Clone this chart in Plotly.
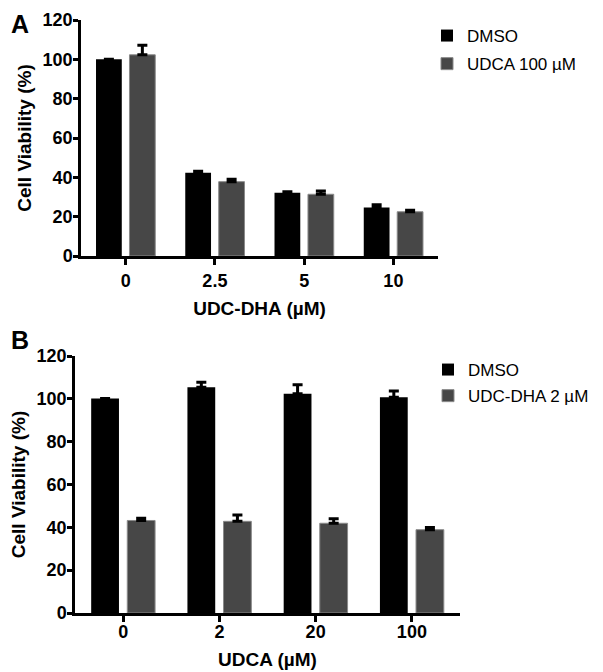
import plotly.graph_objects as go

# Panel A data
a_categories = ["0", "2.5", "5", "10"]
a_dmso = [100.0, 42.3, 32.2, 24.6]
a_dmso_err = [None, 0.8, 0.5, 1.4]
a_udca = [102.3, 37.8, 31.4, 22.5]
a_udca_err = [4.8, 1.2, 1.6, 0.8]

# Panel B data
b_categories = ["0", "2", "20", "100"]
b_dmso = [100.2, 105.4, 102.4, 100.7]
b_dmso_err = [None, 2.3, 4.2, 3.0]
b_udcdha = [43.2, 42.8, 41.9, 38.9]
b_udcdha_err = [1.0, 3.0, 2.1, 1.0]

y_ticks = [0, 20, 40, 60, 80, 100, 120]

BLACK = "#000000"
GRAY = "#474747"
FONT = "Liberation Sans, Arial, sans-serif"

W, H = 603, 672
OFF = 8  # page body margin

def px_x(v):
    return (v - OFF) / W

def px_y(v):
    return 1 - (v - OFF) / H

def err(arr):
    return dict(type="data", array=arr, arrayminus=[0] * len(arr), symmetric=False,
                color="#000000", thickness=3, width=5, visible=True)

fig = go.Figure()
fig.add_trace(go.Bar(x=a_categories, y=a_dmso, name="DMSO", marker=dict(color=BLACK, line=dict(width=0)),
                     error_y=err(a_dmso_err), xaxis="x", yaxis="y", legend="legend", legendgroup="a1"))
fig.add_trace(go.Bar(x=a_categories, y=a_udca, name="UDCA 100 µM",
                     marker=dict(color=GRAY, line=dict(color="#8a8a8a", width=1)),
                     error_y=err(a_udca_err), xaxis="x", yaxis="y", legend="legend", legendgroup="a2"))
fig.add_trace(go.Bar(x=b_categories, y=b_dmso, name="DMSO", marker=dict(color=BLACK, line=dict(width=0)),
                     error_y=err(b_dmso_err), xaxis="x2", yaxis="y2", legend="legend2", legendgroup="b1"))
fig.add_trace(go.Bar(x=b_categories, y=b_udcdha, name="UDC-DHA 2 µM",
                     marker=dict(color=GRAY, line=dict(color="#8a8a8a", width=1)),
                     error_y=err(b_udcdha_err), xaxis="x2", yaxis="y2", legend="legend2", legendgroup="b2"))

def xaxis(domain, anchor, title, lab_off):
    return dict(domain=domain, anchor=anchor, type="category", range=[-0.5, 3.5],
                automargin=False,
                showline=True, linecolor="black", linewidth=2.5, ticks="outside", ticklen=6,
                tickwidth=2.5, tickcolor="black", showgrid=False, zeroline=False,
                tickfont=dict(family=FONT, size=18, color="black", weight="bold"),
                ticklabelstandoff=lab_off,
                title=dict(text=title, font=dict(family=FONT, size=19, color="black", weight="bold"),
                           standoff=12))

def yaxis(domain, anchor):
    return dict(domain=domain, anchor=anchor, range=[0, 120], tickvals=y_ticks,
                automargin=False,
                showline=True, linecolor="black", linewidth=2.5, ticks="outside", ticklen=5,
                tickwidth=2.5, tickcolor="black", showgrid=False, zeroline=False,
                tickfont=dict(family=FONT, size=18, color="black", weight="bold"),
                ticklabelstandoff=-3,
                title=dict(text="Cell Viability (%)", font=dict(family=FONT, size=19, color="black", weight="bold"),
                           standoff=6))

fig.update_layout(
    width=W, height=H,
    margin=dict(l=0, r=0, t=0, b=0, autoexpand=False),
    paper_bgcolor="white", plot_bgcolor="white",
    barmode="group", bargap=0.25, bargroupgap=0.23,
    xaxis=xaxis([px_x(81), px_x(438)], "y", "UDC-DHA (µM)", 1),
    yaxis=yaxis([px_y(256), px_y(20)], "x"),
    xaxis2=xaxis([px_x(75), px_x(460)], "y2", "UDCA (µM)", -5),
    yaxis2=yaxis([px_y(613), px_y(356)], "x2"),
    legend=dict(x=px_x(427), y=px_y(18), xanchor="left", yanchor="top",
                font=dict(family=FONT, size=17, color="black"), bgcolor="rgba(0,0,0,0)",
                traceorder="grouped", itemwidth=30, tracegroupgap=3),
    legend2=dict(x=px_x(428), y=px_y(352), xanchor="left", yanchor="top",
                 font=dict(family=FONT, size=17, color="black"), bgcolor="rgba(0,0,0,0)",
                 traceorder="grouped", itemwidth=30, tracegroupgap=1),
    showlegend=True,
    annotations=[
        dict(text="<b>A</b>", x=px_x(8.5), y=px_y(8), xref="paper", yref="paper", xanchor="left",
             yanchor="top", showarrow=False, font=dict(family=FONT, size=25, color="black")),
        dict(text="<b>B</b>", x=px_x(8.5), y=px_y(324), xref="paper", yref="paper", xanchor="left",
             yanchor="top", showarrow=False, font=dict(family=FONT, size=25, color="black")),
    ],
)

fig.write_html("out.html")
